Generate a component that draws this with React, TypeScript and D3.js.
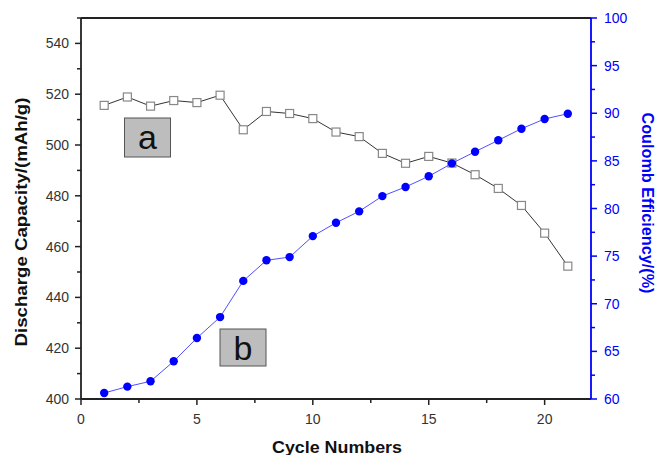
import React from "react";
import * as d3 from "d3";

const cycles = [1,2,3,4,5,6,7,8,9,10,11,12,13,14,15,16,17,18,19,20,21];
const capacity = [515.6,518.9,515.3,517.5,516.7,519.6,506.0,513.2,512.4,510.4,505.1,503.3,496.7,492.8,495.5,492.9,488.3,482.9,476.2,465.3,452.3];
const efficiency = [60.63,61.3,61.86,63.96,66.4,68.6,72.4,74.56,74.9,77.1,78.5,79.7,81.3,82.26,83.38,84.74,85.96,87.16,88.38,89.4,89.95];
const xTicks = [0,5,10,15,20];
const xMinor = [2.5,7.5,12.5,17.5];
const leftTicks = [400,420,440,460,480,500,520,540];
const leftMinor = [410,430,450,470,490,510,530,550];
const rightTicks = [60,65,70,75,80,85,90,95,100];
const rightMinor = [62.5,67.5,72.5,77.5,82.5,87.5,92.5,97.5];

const W = 657, H = 455;
const L = 81, R = 591, T = 18, B = 399;
const font = "Liberation Sans, Arial, sans-serif";
const BLUE = "#0000ff";

export default function App() {
  const x = d3.scaleLinear().domain([0, 22]).range([L, R]);
  const yL = d3.scaleLinear().domain([400, 550]).range([B, T]);
  const yR = d3.scaleLinear().domain([60, 100]).range([B, T]);
  const capLine = d3.line<number>().x((_, i) => x(cycles[i])).y((d) => yL(d));
  const effLine = d3.line<number>().x((_, i) => x(cycles[i])).y((d) => yR(d));

  return (
    <svg width={W} height={H} style={{ position: "absolute", left: 0, top: 0, background: "#fff" }} fontFamily={font}>
      <rect x={0} y={0} width={W} height={H} fill="#fff" />
      {/* frame */}
      <line x1={L} x2={R} y1={T} y2={T} stroke="#222" strokeWidth={1.8} />
      <line x1={L} x2={L} y1={T} y2={B} stroke="#222" strokeWidth={1.8} />
      <line x1={L} x2={R} y1={B} y2={B} stroke="#222" strokeWidth={1.8} />
      <line x1={R} x2={R} y1={T} y2={B} stroke={BLUE} strokeWidth={1.8} />

      {/* bottom axis */}
      {xTicks.map((t) => (
        <g key={"xt" + t}>
          <line x1={x(t)} x2={x(t)} y1={B} y2={B + 6} stroke="#222" strokeWidth={1.5} />
          <text x={x(t)} y={423.5} textAnchor="middle" fontSize={14} fill="#333">{t}</text>
        </g>
      ))}
      {xMinor.map((t) => (
        <line key={"xm" + t} x1={x(t)} x2={x(t)} y1={B} y2={B + 4} stroke="#222" strokeWidth={1.5} />
      ))}
      <text x={337} y={453} textAnchor="middle" fontSize={16} fontWeight="bold" fill="#111" textLength={130} lengthAdjust="spacingAndGlyphs">Cycle Numbers</text>

      {/* left axis */}
      {leftTicks.map((t) => (
        <g key={"lt" + t}>
          <line x1={L - 6} x2={L} y1={yL(t)} y2={yL(t)} stroke="#222" strokeWidth={1.5} />
          <text x={69} y={yL(t) + 5} textAnchor="end" fontSize={14} fill="#333">{t}</text>
        </g>
      ))}
      {leftMinor.map((t) => (
        <line key={"lm" + t} x1={L - 4} x2={L} y1={yL(t)} y2={yL(t)} stroke="#222" strokeWidth={1.5} />
      ))}
      <text transform={`translate(27,222) rotate(-90)`} textAnchor="middle" fontSize={16} fontWeight="bold" fill="#111" textLength={249} lengthAdjust="spacingAndGlyphs">Discharge Capacity/(mAh/g)</text>

      {/* right axis */}
      {rightTicks.map((t) => (
        <g key={"rt" + t}>
          <line x1={R} x2={R + 6} y1={yR(t)} y2={yR(t)} stroke={BLUE} strokeWidth={1.5} />
          <text x={604} y={yR(t) + 5} textAnchor="start" fontSize={14} fill={BLUE}>{t}</text>
        </g>
      ))}
      {rightMinor.map((t) => (
        <line key={"rm" + t} x1={R} x2={R + 4} y1={yR(t)} y2={yR(t)} stroke={BLUE} strokeWidth={1.5} />
      ))}
      <text transform={`translate(642,203) rotate(90)`} textAnchor="middle" fontSize={16} fontWeight="bold" fill={BLUE} textLength={181} lengthAdjust="spacingAndGlyphs">Coulomb Efficiency/(%)</text>

      {/* capacity series */}
      <path d={capLine(capacity) || ""} fill="none" stroke="#333" strokeWidth={1} />
      {capacity.map((v, i) => (
        <rect key={"c" + i} x={x(cycles[i]) - 4} y={yL(v) - 4} width={8} height={8} fill="#fff" stroke="#888" strokeWidth={1.2} />
      ))}

      {/* efficiency series */}
      <path d={effLine(efficiency) || ""} fill="none" stroke="#5050ff" strokeWidth={1} />
      {efficiency.map((v, i) => (
        <circle key={"e" + i} cx={x(cycles[i])} cy={yR(v)} r={4.2} fill={BLUE} />
      ))}

      {/* labels */}
      <rect x={124.5} y={118} width={46} height={39} fill="#bdbdbd" stroke="#555" strokeWidth={1} />
      <text x={147.5} y={149} textAnchor="middle" fontSize={34} fill="#111">a</text>
      <rect x={220} y={329} width={46} height={37} fill="#bdbdbd" stroke="#555" strokeWidth={1} />
      <text x={243} y={360} textAnchor="middle" fontSize={34} fill="#111">b</text>
    </svg>
  );
}
